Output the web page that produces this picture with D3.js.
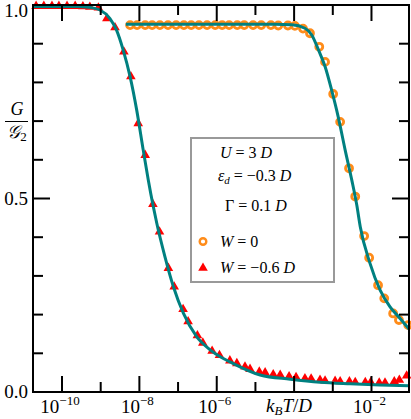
<!DOCTYPE html>
<html>
<head>
  <meta charset="utf-8">
  <title>G/G2 vs kBT/D</title>
  <script src="https://d3js.org/d3.v7.min.js"></script>
  <style>
    html, body { margin: 0; padding: 0; background: #fff; }
    svg { display: block; }
    text { font-family: "Liberation Serif", "DejaVu Serif", serif; fill: #000; }
    .math { font-style: italic; }
  </style>
</head>
<body>
  <svg width="411" height="419"></svg>
  <script>
    // W = 0 : NRG points (orange circles) and fitted curve
    const w0PtsLogT = [-8.24, -8.06, -7.85, -7.67, -7.47, -7.26, -7.05, -6.85, -6.66, -6.46, -6.25, -6.04,
      -5.86, -5.68, -5.47, -5.29, -5.06, -4.85, -4.60, -4.41, -4.16, -3.98, -3.77, -3.59, -3.35, -3.20,
      -2.99, -2.81, -2.58, -2.42, -2.19, -2.06, -1.83, -1.67, -1.44, -1.29, -1.05];
    const w0PtsG = [0.948, 0.948, 0.948, 0.948, 0.948, 0.948, 0.948, 0.948, 0.948, 0.948, 0.948, 0.948,
      0.948, 0.948, 0.948, 0.948, 0.948, 0.948, 0.948, 0.947, 0.947, 0.946, 0.939, 0.927, 0.892, 0.853,
      0.770, 0.698, 0.578, 0.505, 0.403, 0.347, 0.276, 0.242, 0.203, 0.186, 0.173];
    const w0LineLogT = [-8.35, -4.5, -4.06, -3.72, -3.54, -3.37, -3.20, -3.03, -2.86, -2.68, -2.51, -2.38,
      -2.29, -2.04, -1.78, -1.52, -1.26, -1.03];
    const w0LineG = [0.950, 0.950, 0.949, 0.940, 0.922, 0.884, 0.841, 0.780, 0.711, 0.625, 0.548, 0.483,
      0.427, 0.333, 0.264, 0.220, 0.190, 0.163];

    // W = -0.6 D : NRG points (red triangles) and fitted curve
    const w6PtsLogT = [-10.67, -10.47, -10.26, -10.08, -9.87, -9.66, -9.46, -9.28, -9.06, -8.84, -8.63,
      -8.40, -8.22, -8.03, -7.85, -7.65, -7.48, -7.25, -7.10, -6.87, -6.74, -6.50, -6.36, -6.12, -5.93,
      -5.66, -5.48, -5.27, -5.14, -4.90, -4.75, -4.54, -4.36, -4.13, -3.95, -3.72, -3.56, -3.33, -3.20,
      -2.94, -2.81, -2.57, -2.42, -2.16, -2.02, -1.80, -1.65, -1.41, -1.28, -1.09];
    const w6PtsG = [0.997, 0.997, 0.997, 0.997, 0.997, 0.997, 0.996, 0.995, 0.993, 0.965, 0.942,
      0.879, 0.815, 0.694, 0.612, 0.485, 0.414, 0.320, 0.272, 0.214, 0.182, 0.146, 0.127, 0.106, 0.095,
      0.081, 0.074, 0.065, 0.059, 0.052, 0.050, 0.045, 0.044, 0.040, 0.038, 0.035, 0.034, 0.031, 0.029,
      0.028, 0.027, 0.027, 0.025, 0.025, 0.025, 0.024, 0.024, 0.027, 0.031, 0.042];
    const w6LineLogT = [-10.75, -9.6, -9.3, -9.02, -8.76, -8.59, -8.42, -8.24, -8.07, -7.90, -7.77, -7.64,
      -7.55, -7.34, -7.12, -6.86, -6.52, -6.17, -5.91, -5.66, -4.88, -4.10, -3.33, -2.55, -1.78, -1.03];
    const w6LineG = [0.996, 0.996, 0.994, 0.987, 0.965, 0.935, 0.884, 0.815, 0.729, 0.625, 0.548, 0.479,
      0.436, 0.350, 0.272, 0.203, 0.143, 0.109, 0.091, 0.078, 0.044, 0.033, 0.025, 0.021, 0.018, 0.016];

    const xTickExps = [-10, -9, -8, -7, -6, -5, -4, -3, -2];
    const yTicks = [0, 0.1, 0.2, 0.3, 0.4, 0.5, 0.6, 0.7, 0.8, 0.9, 1.0];
    const yTickLabels = {0: "0.0", 0.5: "0.5", 1: "1.0"};

    const m = {left: 33, right: 409, top: 5, bottom: 392};
    const svg = d3.select("svg");

    const x = d3.scaleLog().domain([Math.pow(10, -10.75), Math.pow(10, -1.03)]).range([m.left, m.right]);
    const y = d3.scaleLinear().domain([0, 1]).range([m.bottom, m.top]);

    const zip = (lt, g) => lt.map((v, i) => [Math.pow(10, v), g[i]]);
    const line = d3.line().x(d => x(d[0])).y(d => y(d[1])).curve(d3.curveMonotoneX);

    const plot = svg.append("g");

    // markers
    plot.selectAll("circle.w0")
      .data(zip(w0PtsLogT, w0PtsG))
      .enter().append("circle")
      .attr("class", "w0")
      .attr("cx", d => x(d[0])).attr("cy", d => y(d[1]))
      .attr("r", 3.5)
      .attr("fill", "none").attr("stroke", "#ff8c1a").attr("stroke-width", 2.8);

    const tri = d3.symbol().type(d3.symbolTriangle).size(40);
    plot.selectAll("path.w6")
      .data(zip(w6PtsLogT, w6PtsG))
      .enter().append("path")
      .attr("class", "w6")
      .attr("transform", d => `translate(${x(d[0])},${y(d[1])})`)
      .attr("d", tri)
      .attr("fill", "#ff0000");

    // curves
    plot.append("path").datum(zip(w6LineLogT, w6LineG))
      .attr("d", line).attr("fill", "none").attr("stroke", "#008080").attr("stroke-width", 3);
    plot.append("path").datum(zip(w0LineLogT, w0LineG))
      .attr("d", line).attr("fill", "none").attr("stroke", "#008080").attr("stroke-width", 3);

    // frame and ticks
    const axes = svg.append("g").attr("stroke", "#000").attr("stroke-width", 2);
    axes.append("rect")
      .attr("x", m.left).attr("y", m.top).attr("width", m.right - m.left).attr("height", m.bottom - m.top)
      .attr("fill", "none");

    xTickExps.forEach(e => {
      const xx = x(Math.pow(10, e));
      const len = e % 2 === 0 ? 16 : 10;
      axes.append("line").attr("x1", xx).attr("x2", xx).attr("y1", m.bottom).attr("y2", m.bottom - len);
      axes.append("line").attr("x1", xx).attr("x2", xx).attr("y1", m.top).attr("y2", m.top + len);
    });
    yTicks.forEach(t => {
      const yy = y(t);
      const len = (Math.abs(t - 0.5) < 1e-9) ? 17 : 10;
      if (t > 0 && t < 1) {
        axes.append("line").attr("x1", m.left).attr("x2", m.left + len).attr("y1", yy).attr("y2", yy);
        axes.append("line").attr("x1", m.right).attr("x2", m.right - len).attr("y1", yy).attr("y2", yy);
      }
    });

    // tick labels
    const labels = svg.append("g").attr("font-size", 19);
    yTicks.filter(t => yTickLabels[t] !== undefined).forEach(t => {
      labels.append("text").attr("x", m.left - 5).attr("y", Math.max(y(t) + 6, 17))
        .attr("text-anchor", "end").text(yTickLabels[t]);
    });
    xTickExps.filter(e => e % 2 === 0 && e !== -4).forEach(e => {
      const t = labels.append("text").attr("x", x(Math.pow(10, e)) - 2).attr("y", 413)
        .attr("text-anchor", "middle");
      t.append("tspan").text("10");
      t.append("tspan").attr("font-size", 13).attr("dy", -8).text("\u2212" + Math.abs(e));
    });

    // x axis title at the 10^-4 slot
    const xt = svg.append("text").attr("x", x(Math.pow(10, -4)) - 5).attr("y", 412)
      .attr("text-anchor", "middle").attr("font-size", 19).attr("class", "math");
    xt.append("tspan").text("k");
    xt.append("tspan").attr("font-size", 13).attr("dy", 3).text("B");
    xt.append("tspan").attr("dy", -3).text("T");
    xt.append("tspan").attr("font-style", "normal").text("/");
    xt.append("tspan").text("D");

    // y axis title: G / G2
    svg.append("text").attr("x", 17).attr("y", 115).attr("text-anchor", "middle")
      .attr("font-size", 18).attr("class", "math").text("G");
    svg.append("line").attr("x1", 5).attr("x2", 28).attr("y1", 121.5).attr("y2", 121.5)
      .attr("stroke", "#000").attr("stroke-width", 1);
    const den = svg.append("text").attr("x", 17).attr("y", 138).attr("text-anchor", "middle")
      .attr("font-size", 18).attr("class", "math");
    den.append("tspan").text("\u{1D4A2}");
    den.append("tspan").attr("font-size", 13).attr("font-style", "normal").attr("dy", 3).text("2");

    // legend
    const lg = svg.append("g");
    lg.append("rect").attr("x", 191).attr("y", 138).attr("width", 143).attr("height", 144)
      .attr("fill", "#fff").attr("stroke", "#999").attr("stroke-width", 2);

    // parts: [text, italic, dy, small]
    const eq = (xx, yy, parts) => {
      const t = lg.append("text").attr("x", xx).attr("y", yy).attr("font-size", 16);
      parts.forEach(p => {
        const s = t.append("tspan").text(p[0]);
        if (p[1]) s.attr("font-style", "italic");
        if (p[2]) s.attr("dy", p[2]);
        if (p[3]) s.attr("font-size", 11);
      });
      return t;
    };
    eq(220, 158, [["U", 1], [" = 3 "], ["D", 1]]);
    eq(218, 181, [["\u03B5", 1], ["d", 1, 3, 1], [" = \u22120.3 ", 0, -3], ["D", 1]]);
    eq(225, 211, [["\u0393"], [" = 0.1 "], ["D", 1]]);
    eq(220, 247, [["W", 1], [" = 0"]]);
    eq(220, 273, [["W", 1], [" = \u22120.6 "], ["D", 1]]);

    lg.append("circle").attr("cx", 203).attr("cy", 241.5).attr("r", 3.3)
      .attr("fill", "none").attr("stroke", "#ff8c1a").attr("stroke-width", 2.4);
    lg.append("path").attr("transform", "translate(203,268)").attr("d", tri).attr("fill", "#ff0000");
  </script>
</body>
</html>
